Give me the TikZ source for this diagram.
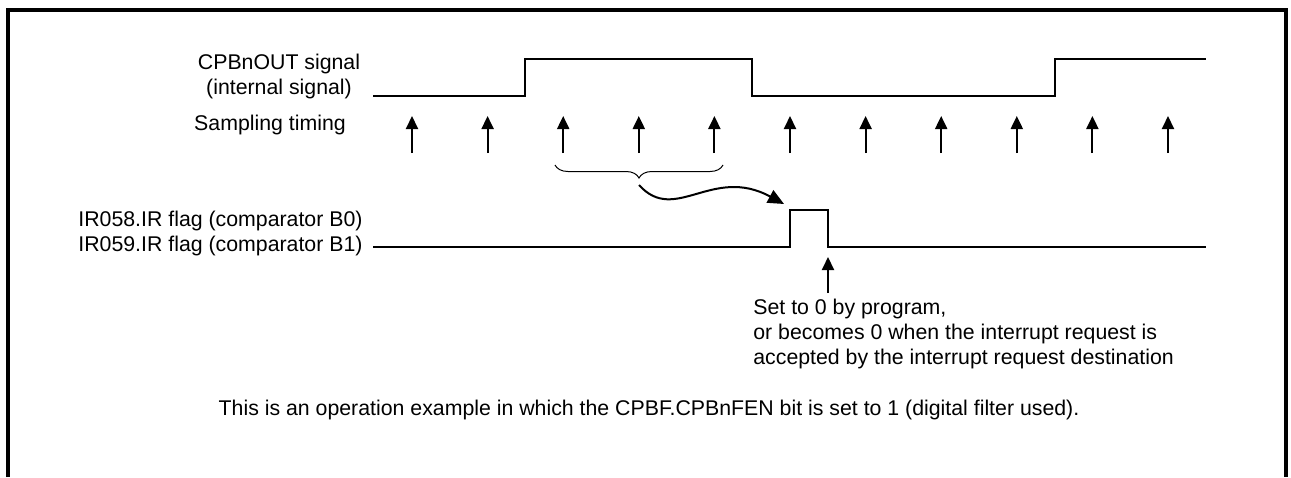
\documentclass[tikz,border=0pt]{standalone}
\usepackage{fontspec}
\setmainfont{Liberation Sans}
\usetikzlibrary{arrows.meta,positioning,calc,decorations.pathreplacing}
\tikzset{
  frame/.style={draw=black,line width=1.75pt},
  wave/.style={draw=black,line width=1pt,line join=miter},
  tick/.style={-{Triangle[length=6.5pt,width=6pt]},draw=black,line width=1pt},
  swing/.style={-{Triangle[length=8pt,width=7pt]},draw=black,line width=1pt},
  bracket/.style={draw=black,line width=.5pt,decorate,decoration={brace,mirror,amplitude=6.5pt}},
  lbl/.style={font=\fontsize{10.65}{12.5}\selectfont,inner sep=0pt},
  note/.style={font=\fontsize{10.65}{12.4}\selectfont,inner sep=0pt,align=left}
}
\begin{document}
\begin{tikzpicture}[x=0.5pt,y=-0.5pt]
        \useasboundingbox (0,0) rectangle (1291,477);
        \draw[frame] (8,477) -- (8,10) -- (1286,10) -- (1286,477);
        % labels
        \node[lbl,align=center] (outlbl) at (279,76) {CPBnOUT signal\\(internal signal)};
        \node[lbl] (samplbl) at (270,125) {Sampling timing};
        \node[lbl,align=left,anchor=west] (irlbl) at (78,233) {IR058.IR flag (comparator B0)\\IR059.IR flag (comparator B1)};
        \node[note,anchor=north west] (clrnote) at (753,299) {Set to 0 by program,\\or becomes 0 when the interrupt request is\\accepted by the interrupt request destination};
        \node[lbl,anchor=base] (opnote) at (649,415) {This is an operation example in which the CPBF.CPBnFEN bit is set to 1 (digital filter used).};
        % waveforms
        \coordinate (outstart) at (373,96);
        \coordinate (irstart) at (373,247);
        \coordinate (irrise) at (790,210);
        \coordinate (clrtip) at (828,257);
        \draw[wave] (outstart) -- (525,96) -- (525,59) -- (752,59) -- (752,96) -- (1055,96) -- (1055,59) -- (1206,59);
        \draw[wave] (irstart) -- (790,247) -- (irrise) -- (828,210) -- (828,247) -- (1206,247);
        % sampling points
        \foreach \i in {0,...,10}
          \draw[tick] ({412+75.6*\i},153) -- ({412+75.6*\i},116);
        % filter window
        \draw[bracket] (555,165) -- coordinate[pos=.5,yshift=-10pt] (bracetip) (723,165);
        \draw[swing] (bracetip) .. controls (675,225) and (712,165) .. ($(irrise)+(-3pt,3pt)$);
        \draw[tick] ([yshift=3pt]clrnote.north -| clrtip) -- (clrtip);
      \end{tikzpicture}
\end{document}
